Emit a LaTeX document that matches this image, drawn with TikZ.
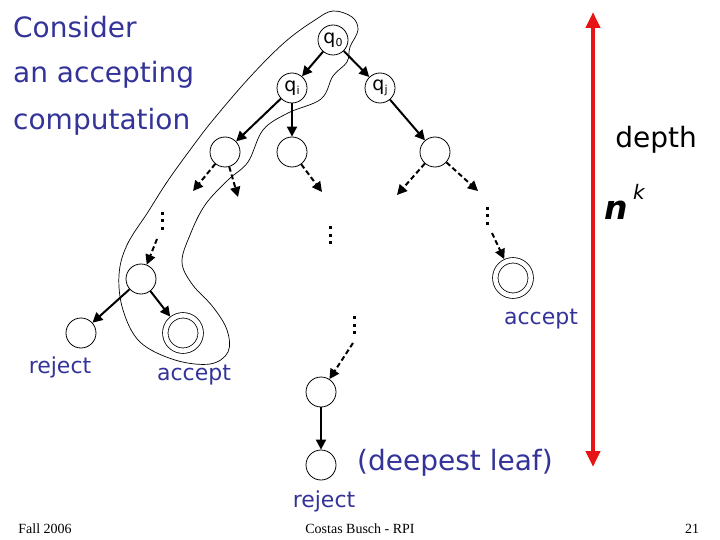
\documentclass[tikz,border=0pt]{standalone}
\usepackage{fontspec}
\setmainfont{DejaVu Sans}
\newfontfamily\footfont{Liberation Serif}
\usetikzlibrary{arrows.meta}
\definecolor{txtblue}{RGB}{51,51,153}
\definecolor{arrred}{RGB}{230,20,20}
\newcommand{\qlab}[1]{{\fontsize{19}{19}\selectfont q\raisebox{-3pt}{\fontsize{11}{11}\selectfont #1}}}
\begin{document}
\begin{tikzpicture}[x=1pt,y=-1pt,
  st/.style={circle,draw,line width=0.8pt,minimum size=30pt,inner sep=0pt},
  acc/.style={circle,draw,line width=0.8pt,double,double distance=4.6pt,minimum size=35.4pt,inner sep=0pt,outer sep=3.1pt},
  solidarr/.style={line width=2pt,-{Triangle[length=10pt,width=10pt]}},
  dasharr/.style={line width=2pt,dash pattern=on 5pt off 3pt,-{Triangle[length=10pt,width=10pt]}},
  vdot/.style={line width=3pt,dash pattern=on 3pt off 4.5pt},
  title/.style={text=txtblue,font=\fontsize{28}{28}\selectfont,anchor=base west,inner sep=0pt},
  lbl/.style={text=txtblue,font=\fontsize{22}{22}\selectfont,anchor=base,inner sep=0pt},
  foot/.style={font=\footfont\fontsize{14}{14}\selectfont,anchor=base,inner sep=0pt}]
\useasboundingbox (0,0) rectangle (720,540);

% title
\node[title] (t1) at (13,38) {Consider};
\node[title] (t2) at (13,83) {an accepting};
\node[title] (t3) at (13,130) {computation};

% accepting computation outline
\draw[line width=0.7pt] plot[smooth cycle, tension=0.6] coordinates {
 (333,11) (352,17) (358,30) (350,47) (347,62) (333,76) (321,99) (288,113)
 (263,130) (248,162) (228,180) (205,205) (190,235) (182,262) (192,284)
 (213,307) (227,330) (228,352) (210,364) (175,360) (140,342) (123,310)
 (119,275) (127,245) (148,212) (167,182) (190,150) (213,120) (250,77)
 (285,42) (315,20)};

% nodes
\node[st] (q0) at (333,40) {\qlab{0}};
\node[st] (qi) at (292,88) {\qlab{i}};
\node[st] (qj) at (380,88) {\qlab{j}};
\node[st] (A) at (225,152) {};
\node[st] (B) at (292,152) {};
\node[st] (C) at (435,152) {};
\node[st] (D) at (141,279) {};
\node[st] (E) at (81,333) {};
\node[acc] (F) at (183,333) {};
\node[acc] (G) at (513,278) {};
\node[st] (H) at (321,392) {};
\node[st] (I) at (321,465) {};

\coordinate (a1) at (193,191);
\coordinate (a2) at (238,197);
\coordinate (b1) at (322,192);
\coordinate (c1) at (397,195);
\coordinate (c2) at (478,191);
\coordinate (d0) at (157,239);
\coordinate (g0) at (492,233);
\coordinate (h0) at (353,343);

% solid edges
\draw[solidarr] (q0) -- (qi);
\draw[solidarr] (q0) -- (qj);
\draw[solidarr] (qi) -- (A);
\draw[solidarr] (qi) -- (B);
\draw[solidarr] (qj) -- (C);
\draw[solidarr] (D) -- (E);
\draw[solidarr] (D) -- (F);
\draw[solidarr] (H) -- (I);

% dashed edges
\draw[dasharr] (A) -- (a1);
\draw[dasharr] (A) -- (a2);
\draw[dasharr] (B) -- (b1);
\draw[dasharr] (C) -- (c1);
\draw[dasharr] (C) -- (c2);
\draw[dasharr] (d0) -- (D);
\draw[dasharr] (g0) -- (G);
\draw[dasharr] (h0) -- (H);

% vertical dots
\draw[vdot] (162,212) -- (162,231);
\draw[vdot] (330,226) -- (330,245);
\draw[vdot] (487,207) -- (487,226);
\draw[vdot] (354,316) -- (354,335);

% labels
\node[lbl] (rej1) at (60,373) {reject};
\node[lbl] (acc1) at (194,380) {accept};
\node[lbl] (acc2) at (541,324) {accept};
\node[lbl] (rej2) at (324,507) {reject};
\node[text=txtblue,font=\fontsize{28}{28}\selectfont,anchor=base,inner sep=0pt] (deep) at (455,470) {(deepest leaf)};

% depth arrow
\coordinate (top) at (593,12);
\coordinate (bot) at (593,467);
\draw[arrred,line width=4pt,{Triangle[length=16pt,width=14pt]}-{Triangle[length=16pt,width=14pt]}] (top) -- (bot);
\node[font=\fontsize{28}{28}\selectfont,anchor=base,inner sep=0pt] (depth) at (656,148) {depth};
\node[font=\fontsize{33}{33}\selectfont\bfseries\itshape,anchor=base,inner sep=0pt] (nn) at (616,219) {n};
\node[font=\fontsize{20}{20}\selectfont\itshape,anchor=base,inner sep=0pt] (kk) at (639,200) {k};

% footer
\node[foot] (f1) at (45,533) {Fall 2006};
\node[foot] (f2) at (360,533) {Costas Busch - RPI};
\node[foot] (f3) at (692,533) {21};
\end{tikzpicture}
\end{document}
